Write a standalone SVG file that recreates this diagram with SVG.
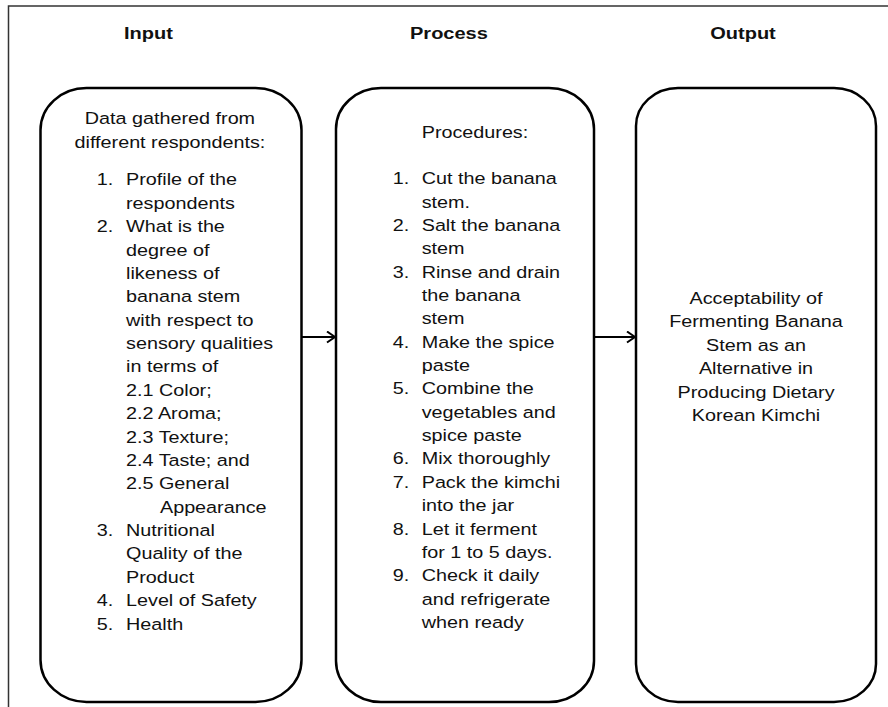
<svg xmlns="http://www.w3.org/2000/svg" width="888" height="707" viewBox="0 0 888 707">
<style>
.frame{fill:none;stroke:#333;stroke-width:1.5}
.box{fill:#fff;stroke:#000;stroke-width:2.5}
.t{font-family:"Liberation Sans",Arial,sans-serif;font-size:17.2px;fill:#111}
.h{font-family:"Liberation Sans",Arial,sans-serif;font-size:17.4px;font-weight:bold;fill:#111}
.c{text-anchor:middle}
.conn{fill:none;stroke:#000;stroke-width:2}
</style>
<defs>
<marker id="arr" markerUnits="userSpaceOnUse" markerWidth="12" markerHeight="14" refX="9" refY="6" orient="auto">
<path d="M1,0.5 L9,6 L1,11.5" fill="none" stroke="#000" stroke-width="2"/>
</marker>
</defs>
<rect width="888" height="707" fill="#fff"/>
<rect class="frame" x="8.5" y="6" width="900" height="720"/>
<g id="titles" transform="scale(1.15,1)">
<text class="h c" x="129.1" y="39">Input</text>
<text class="h c" x="390.4" y="39">Process</text>
<text class="h c" x="646.1" y="39">Output</text>
</g>
<g id="input">
<rect class="box" x="40.5" y="88" width="261" height="614" rx="46" ry="42"/>
<g transform="scale(1.15,1)">
<text class="t c" x="147.8" y="124.3">Data gathered from</text>
<text class="t c" x="147.8" y="147.7">different respondents:</text>
<text class="t" x="84.1" y="185.5">1.</text><text class="t" x="109.6" y="185.5">Profile of the</text>
<text class="t" x="109.6" y="208.9">respondents</text>
<text class="t" x="84.1" y="232.2">2.</text><text class="t" x="109.6" y="232.2">What is the</text>
<text class="t" x="109.6" y="255.6">degree of</text>
<text class="t" x="109.6" y="279">likeness of</text>
<text class="t" x="109.6" y="302.4">banana stem</text>
<text class="t" x="109.6" y="325.7">with respect to</text>
<text class="t" x="109.6" y="349.1">sensory qualities</text>
<text class="t" x="109.6" y="372.5">in terms of</text>
<text class="t" x="109.6" y="395.8">2.1 Color;</text>
<text class="t" x="109.6" y="419.2">2.2 Aroma;</text>
<text class="t" x="109.6" y="442.6">2.3 Texture;</text>
<text class="t" x="109.6" y="466">2.4 Taste; and</text>
<text class="t" x="109.6" y="489.3">2.5 General</text>
<text class="t" x="139.1" y="512.7">Appearance</text>
<text class="t" x="84.1" y="536.1">3.</text><text class="t" x="109.6" y="536.1">Nutritional</text>
<text class="t" x="109.6" y="559.4">Quality of the</text>
<text class="t" x="109.6" y="582.8">Product</text>
<text class="t" x="84.1" y="606.2">4.</text><text class="t" x="109.6" y="606.2">Level of Safety</text>
<text class="t" x="84.1" y="629.6">5.</text><text class="t" x="109.6" y="629.6">Health</text>
</g>
</g>
<g id="process">
<rect class="box" x="336" y="88" width="258" height="614" rx="45" ry="41"/>
<g transform="scale(1.15,1)">
<text class="t" x="366.7" y="137.7">Procedures:</text>
<text class="t" x="341.5" y="184.3">1.</text><text class="t" x="366.7" y="184.3">Cut the banana</text>
<text class="t" x="366.7" y="207.7">stem.</text>
<text class="t" x="341.5" y="231">2.</text><text class="t" x="366.7" y="231">Salt the banana</text>
<text class="t" x="366.7" y="254.4">stem</text>
<text class="t" x="341.5" y="277.7">3.</text><text class="t" x="366.7" y="277.7">Rinse and drain</text>
<text class="t" x="366.7" y="301.1">the banana</text>
<text class="t" x="366.7" y="324.4">stem</text>
<text class="t" x="341.5" y="347.8">4.</text><text class="t" x="366.7" y="347.8">Make the spice</text>
<text class="t" x="366.7" y="371.1">paste</text>
<text class="t" x="341.5" y="394.5">5.</text><text class="t" x="366.7" y="394.5">Combine the</text>
<text class="t" x="366.7" y="417.8">vegetables and</text>
<text class="t" x="366.7" y="441.2">spice paste</text>
<text class="t" x="341.5" y="464.5">6.</text><text class="t" x="366.7" y="464.5">Mix thoroughly</text>
<text class="t" x="341.5" y="487.9">7.</text><text class="t" x="366.7" y="487.9">Pack the kimchi</text>
<text class="t" x="366.7" y="511.2">into the jar</text>
<text class="t" x="341.5" y="534.6">8.</text><text class="t" x="366.7" y="534.6">Let it ferment</text>
<text class="t" x="366.7" y="557.9">for 1 to 5 days.</text>
<text class="t" x="341.5" y="581.3">9.</text><text class="t" x="366.7" y="581.3">Check it daily</text>
<text class="t" x="366.7" y="604.6">and refrigerate</text>
<text class="t" x="366.7" y="628">when ready</text>
</g>
</g>
<g id="output">
<rect class="box" x="636" y="88" width="240" height="614" rx="42" ry="38"/>
<g transform="scale(1.15,1)">
<text class="t c" x="657.4" y="304">Acceptability of</text>
<text class="t c" x="657.4" y="327.4">Fermenting Banana</text>
<text class="t c" x="657.4" y="350.8">Stem as an</text>
<text class="t c" x="657.4" y="374.2">Alternative in</text>
<text class="t c" x="657.4" y="397.6">Producing Dietary</text>
<text class="t c" x="657.4" y="421">Korean Kimchi</text>
</g>
</g>
<g id="connectors">
<line class="conn" x1="301.5" y1="337" x2="335" y2="337" marker-end="url(#arr)"/>
<line class="conn" x1="594" y1="337" x2="635" y2="337" marker-end="url(#arr)"/>
</g>
</svg>
